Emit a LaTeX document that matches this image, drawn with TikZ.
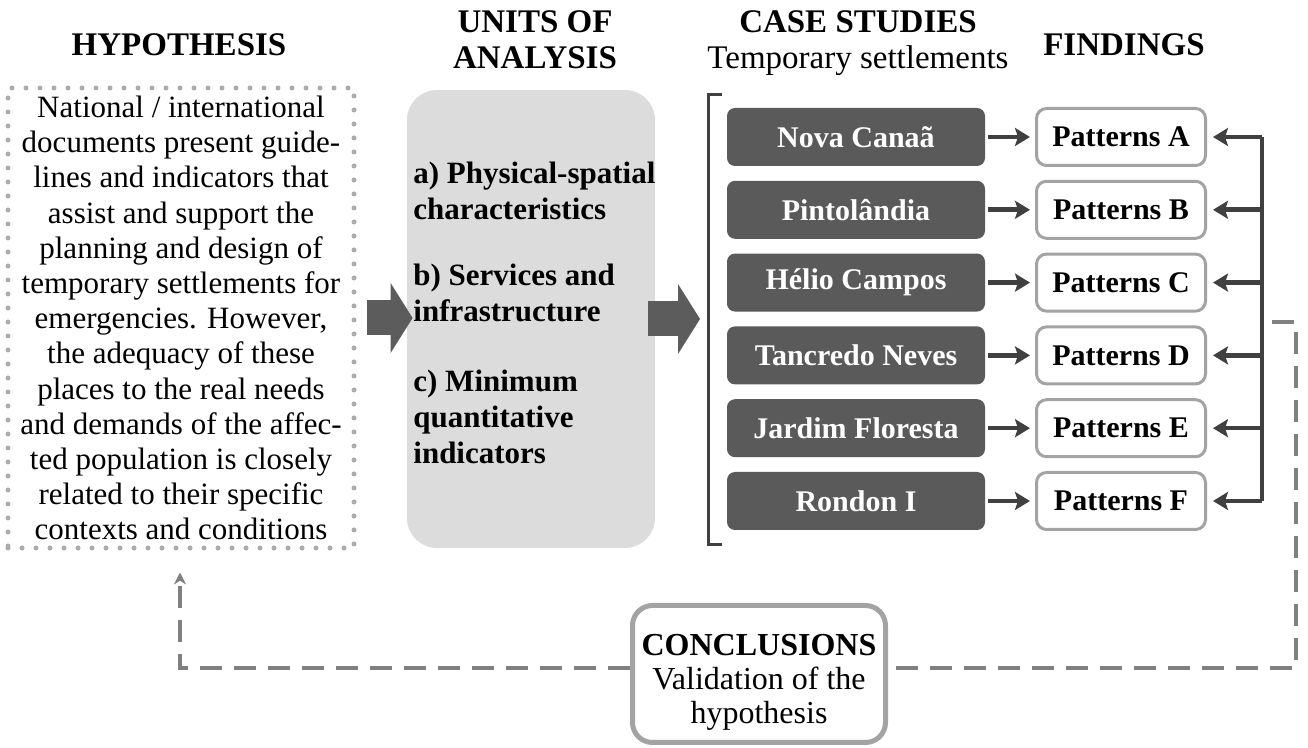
\documentclass[tikz,border=0pt]{standalone}
\usepackage{fontspec}
\setmainfont{Liberation Serif}
\usetikzlibrary{arrows.meta,positioning}
\definecolor{casegray}{HTML}{5A5A5A}
\definecolor{unitgray}{HTML}{DCDCDC}
\definecolor{framegray}{HTML}{A3A3A3}
\definecolor{dashgray}{HTML}{808080}
\definecolor{arrowgray}{HTML}{404040}
\definecolor{blockgray}{HTML}{5C5C5C}
\definecolor{dotgray}{HTML}{ABABAB}
\newcommand{\hd}[1]{\textbf{#1}} % Column heading.

\begin{document}
\begin{tikzpicture}[x=0.5pt,y=-0.5pt,
  heading/.style={align=center,font=\fontsize{16.5}{18}\selectfont},
  casebox/.style={fill=casegray,rounded corners=4pt,minimum width=129pt,
    minimum height=29pt,inner sep=0pt,text=white,
    font=\fontsize{15}{17}\selectfont\bfseries},
  patbox/.style={draw=framegray,line width=1.5pt,fill=white,rounded corners=5pt,
    minimum width=84.5pt,minimum height=28.5pt,inner sep=0pt,
    font=\fontsize{15}{17}\selectfont\bfseries},
  link/.style={draw=arrowgray,line width=2.3pt,
    -{Stealth[length=7.5pt,width=9pt,inset=1.5pt]}},
  bigarrow/.style={draw=blockgray,line width=17.5pt,
    -{Triangle[length=11pt,width=35pt,line width=0pt]}},
  feedback/.style={draw=dashgray,line width=2pt,dash pattern=on 11pt off 6pt},
]
\useasboundingbox (0,0) rectangle (1308,748);

% headings
\node[heading] (hhyp) at (179,45) {\hd{HYPOTHESIS}};
\node[heading] (hunits) at (535,40) {\hd{UNITS OF}\\\hd{ANALYSIS}};
\node[heading] (hcase) at (858,43) {\hd{CASE STUDIES}\\Temporary settlements};
\node[heading] (hfind) at (1124,45) {\hd{FINDINGS}};

% hypothesis
\node[draw=dotgray,line width=2.5pt,dash pattern=on 0pt off 7pt,line cap=round,
  minimum width=173pt,minimum height=230pt,align=center,
  font=\fontsize{15.5}{17.6}\selectfont] (hyp) at (181,318)
  {National / international\\documents present guide-\\lines and indicators that\\
   assist and support the\\planning and design of\\temporary settlements for\\
   emergencies. However,\\the adequacy of these\\places to the real needs\\
   and demands of the affec-\\ted population is closely\\related to their specific\\
   contexts and conditions};

% units of analysis
\node[fill=unitgray,rounded corners=15pt,minimum width=124pt,minimum height=229pt]
  (units) at (531,319) {};
\node[anchor=west,align=left,inner sep=0pt,
  font=\fontsize{15.5}{18}\selectfont\bfseries] (unittext) at (413,313)
  {a) Physical-spatial\\characteristics\\[15pt]
   b) Services and\\infrastructure\\[17pt]
   c) Minimum\\quantitative\\indicators};

\coordinate (brk) at (708,95);
\draw[bigarrow,shorten <=5pt,shorten >=-3pt] (hyp.east) -- (hyp.east -| units.west);
\draw[bigarrow,shorten <=-3.5pt,shorten >=4pt] (units.east) -- (units.east -| brk);

% case studies and findings
\draw[arrowgray,line width=1.5pt] (722,95) -| (708,545) -- (722,545);
\foreach \i/\name/\pat in {1/Nova Canaã/A,2/Pintolândia/B,3/Hélio Campos/C,
    4/Tancredo Neves/D,5/Jardim Floresta/E,6/Rondon I/F} {
  \node[casebox] (c\i) at (856,{137+72.8*(\i-1)}) {\name};
  \node[patbox] (p\i) at (1121,{137+72.8*(\i-1)}) {Patterns \pat};
  \draw[link,shorten <=1.5pt,shorten >=2.5pt] (c\i) -- (p\i);
}
\coordinate (bus) at (1262,0);
\draw[arrowgray,line width=2.3pt] (p1 -| bus) -- (p6 -| bus);
\foreach \i in {1,...,6}
  \draw[link,shorten >=3pt] (p\i -| bus) -- (p\i.east);

% conclusions and the way back
\node[draw=framegray,line width=2.5pt,rounded corners=10pt,fill=white,
  minimum width=126.5pt,minimum height=68.5pt,align=center,
  font=\fontsize{16}{17}\selectfont] (concl) at (759,674)
  {\rule{0pt}{19pt}\hd{CONCLUSIONS}\\Validation of the\\hypothesis};
\coordinate (fbtop) at (1272,322);
\coordinate (fbr) at (1296,668);
\coordinate (fbl) at (180,668);
\draw[feedback] (fbtop) -- (fbtop -| fbr) -- (fbr) -- (fbr -| concl.east);
\draw[feedback,-{Stealth[length=6pt,width=6pt]},shorten >=11pt]
  (fbl -| concl.west) -- (fbl) -- (fbl |- hyp.south);
\end{tikzpicture}
\end{document}
